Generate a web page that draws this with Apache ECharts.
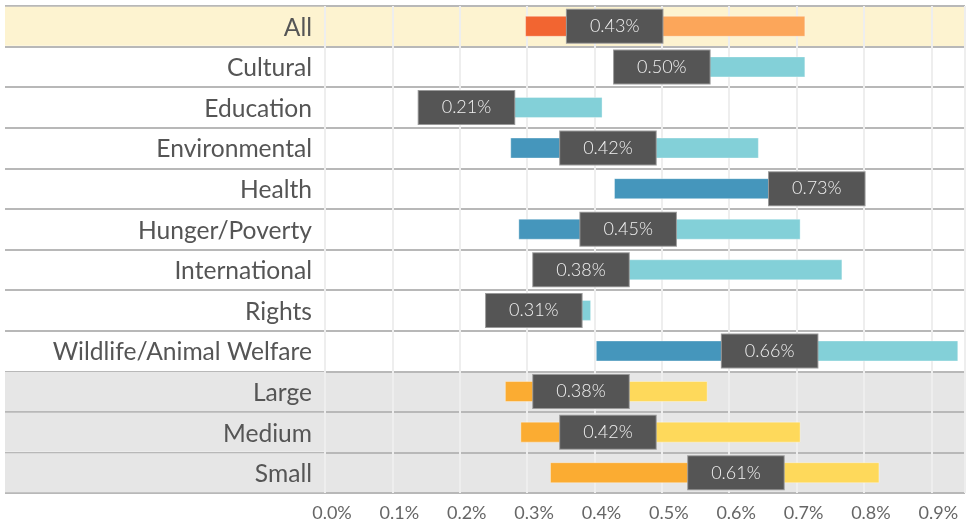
<!DOCTYPE html>
<html>
<head>
<meta charset="utf-8">
<script src="https://cdn.jsdelivr.net/npm/echarts@6/dist/echarts.min.js"></script>
<style>
  html, body { margin: 0; padding: 0; background: #fff; }
  #main { width: 968px; height: 522px; }
</style>
</head>
<body>
<div id="main"></div>
<script>
// 数据
var categories = ['All', 'Cultural', 'Education', 'Environmental', 'Health', 'Hunger/Poverty',
    'International', 'Rights', 'Wildlife/Animal Welfare', 'Large', 'Medium', 'Small'];
var groups = ['all', 'cause', 'cause', 'cause', 'cause', 'cause', 'cause', 'cause', 'cause', 'size', 'size', 'size'];
var lowValues = [0.297, 0.46, 0.17, 0.275, 0.429, 0.287, 0.33, 0.26, 0.402, 0.267, 0.290, 0.334];
var midValues = [0.43, 0.50, 0.21, 0.42, 0.73, 0.45, 0.38, 0.31, 0.66, 0.38, 0.42, 0.61];
var highValues = [0.713, 0.713, 0.412, 0.644, 0.78, 0.706, 0.768, 0.395, 0.940, 0.568, 0.706, 0.823];
var xTicks = [0, 0.1, 0.2, 0.3, 0.4, 0.5, 0.6, 0.7, 0.8, 0.9];

var darkColors = { all: '#f26531', cause: '#4596bc', size: '#fbac32' };
var lightColors = { all: '#fca65a', cause: '#83d0d8', size: '#fed95b' };
var rowBg = { all: '#fdf3d0', cause: 'transparent', size: '#e6e6e6' };
var FONT = 'Lato, "Open Sans", sans-serif';

var myChart = echarts.init(document.getElementById('main'));

// 左侧每行的背景
var rich = {};
['all', 'cause', 'size'].forEach(function (g) {
    rich[g] = {
        width: 307, height: 36, align: 'right', padding: [3, 13, 0, 0],
        backgroundColor: rowBg[g], fontSize: 24.6, color: '#555', fontFamily: FONT
    };
});

var darkData = categories.map(function (c, i) {
    return { value: midValues[i] - lowValues[i], itemStyle: { color: darkColors[groups[i]] } };
});
var lightData = categories.map(function (c, i) {
    return { value: highValues[i] - midValues[i], itemStyle: { color: lightColors[groups[i]] } };
});
var labelData = categories.map(function (c, i) { return [midValues[i], i]; });

var option = {
    animation: false,
    grid: { left: 325, right: 3, top: 6, bottom: 29 },
    xAxis: {
        type: 'value', min: 0, max: 0.95, interval: 0.1, z: 1,
        axisLine: { show: false }, axisTick: { show: false },
        splitLine: { lineStyle: { color: '#eeeeee', width: 2 } },
        axisLabel: {
            showMaxLabel: false, margin: 11, fontSize: 18, color: '#666', fontFamily: FONT,
            padding: [0, 0, 0, 14],
            formatter: function (v) { return xTicks.indexOf(Math.round(v * 10) / 10) >= 0 ? v.toFixed(1) + '%' : ''; }
        }
    },
    yAxis: {
        type: 'category', data: categories, inverse: true,
        axisLine: { show: false },
        axisTick: { show: true, length: 320, lineStyle: { color: '#b8b8b8', width: 2 } },
        splitLine: { show: true, lineStyle: { color: '#b8b8b8', width: 2 } },
        splitArea: { show: true, areaStyle: { color: groups.map(function (g) { return g === 'all' ? '#fdf3d0' : (g === 'size' ? '#e6e6e6' : '#ffffff'); }) } },
        axisLabel: {
            margin: 0,
            formatter: function (v, i) { return '{' + groups[i] + '|' + v + '}'; },
            rich: rich
        }
    },
    series: [
        {
            type: 'bar', stack: 'r', barWidth: 21, silent: true,
            itemStyle: { color: 'transparent' },
            data: lowValues
        },
        {
            type: 'bar', stack: 'r', barWidth: 21,
            itemStyle: { borderColor: 'rgba(255,255,255,0.35)', borderWidth: 1 },
            data: darkData
        },
        {
            type: 'bar', stack: 'r', barWidth: 21,
            itemStyle: { borderColor: 'rgba(255,255,255,0.35)', borderWidth: 1 },
            data: lightData
        },
        {
            type: 'scatter', z: 5, symbol: 'rect', symbolSize: 1,
            itemStyle: { color: 'transparent', opacity: 1 },
            label: {
                show: true, position: 'inside',
                formatter: function (p) { return p.value[0].toFixed(2) + '%'; },
                backgroundColor: '#555555', borderColor: '#9a9a9a', borderWidth: 1,
                padding: [7, 23], lineHeight: 19,
                fontSize: 18, fontWeight: 300, color: '#f2f2f2', fontFamily: FONT
            },
            data: labelData
        }
    ]
};

myChart.setOption(option);
</script>
</body>
</html>
